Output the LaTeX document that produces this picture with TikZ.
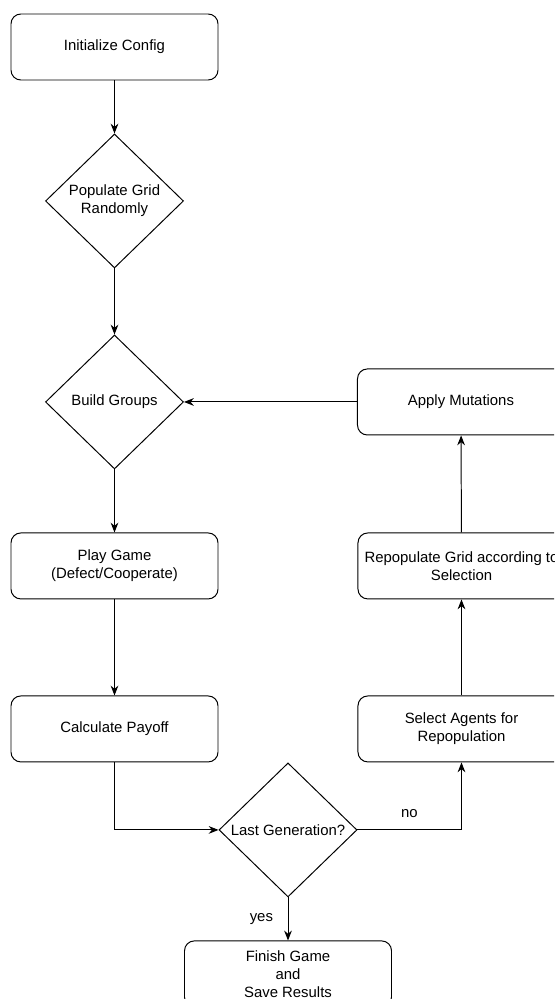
\documentclass[tikz,border=0pt]{standalone}
\usepackage{fontspec}
\setmainfont{Liberation Sans}
\usepackage{tikz}
\usetikzlibrary{shapes}
\usetikzlibrary{shapes.geometric}
\usetikzlibrary{positioning}
\usetikzlibrary{arrows.meta}

\begin{document}
\begin{tikzpicture}[auto,
        line width=0.7pt,
        >={Stealth[length=7pt,width=5.5pt]},
        every node/.style={font=\fontsize{10.6}{12.8}\selectfont},
        process/.style={draw, rounded corners=7pt, align=center, minimum width=5.175cm, minimum height=1.65cm, inner sep=1pt},
        decision/.style={draw, diamond, align=center, minimum width=3.45cm, minimum height=3.35cm, inner sep=0pt}]
        \clip (0,0) rectangle (13.85,-24.975);

        \node[process] (init_config) at (2.8625,-1.175) {Initialize Config};
        \node[decision] (populate_grid) [below=1.325cm of init_config] {Populate Grid \\ Randomly};
        \node[decision] (build_groups) [below=1.65cm of populate_grid] {Build Groups};
        \node[process] (play_game) [below=1.575cm of build_groups] {Play Game \\ (Defect/Cooperate)};
        \node[process] (calc_payoff) [below=2.4cm of play_game] {Calculate Payoff};
        \node[decision] (last_gen) [below=0cm of calc_payoff, xshift=4.3375cm] {Last Generation?};
        \node[process] (finish_game) [below=1.075cm of last_gen] {Finish Game \\ and \\ Save Results};

        \node[process] (select_agents) [right=3.475cm of calc_payoff] {Select Agents for \\ Repopulation};
        \node[process] (repopulate_grid) [right=3.475cm of play_game] {Repopulate Grid according to \\ Selection};
        \node[process] (apply_mutations) [right=4.325cm of build_groups] {Apply Mutations};

        \draw[->] (init_config) -- (populate_grid);
        \draw[->] (populate_grid) -- (build_groups);
        \draw[->] (build_groups) -- (play_game);
        \draw[->] (play_game) -- (calc_payoff);
        \draw[->] (calc_payoff.south) |- (last_gen.west);
        \draw[->] (last_gen.south) -- node[midway,left=7pt] {yes} (finish_game.north);
        \draw[->] (last_gen.east) -| node[pos=0.25,above=5pt] {no} (select_agents.south);
        \draw[->] (select_agents) -- (repopulate_grid);
        \draw[->] (repopulate_grid) -- (apply_mutations);
        \draw[->] (apply_mutations) -- (build_groups);
    \end{tikzpicture}
\end{document}
